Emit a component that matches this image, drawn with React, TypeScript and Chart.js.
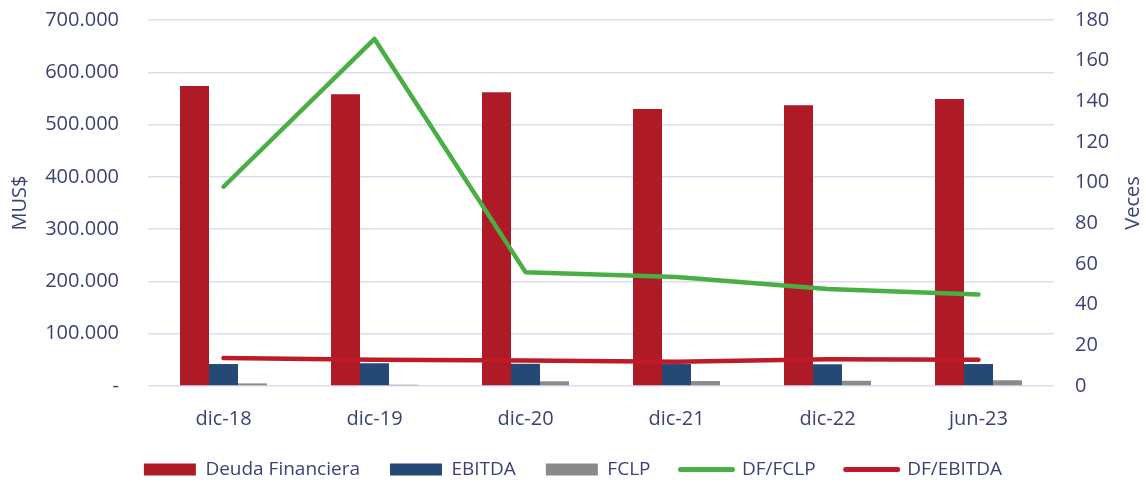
import React, { useEffect, useRef } from "react";
import { Chart, registerables } from "chart.js";

Chart.register(...registerables);

const categories = ["dic-18", "dic-19", "dic-20", "dic-21", "dic-22", "jun-23"];
const deudaFinanciera = [574000, 558000, 562000, 530000, 537000, 549000];
const ebitda = [42000, 43500, 42500, 42000, 41500, 42000];
const fclp = [5000, 2500, 9000, 9500, 10000, 11000];
const dfFclp = [98, 170.7, 56, 53.6, 47.7, 45];
const dfEbitda = [13.8, 12.9, 12.6, 11.9, 13.2, 12.9];
const leftAxisTitle = "MUS$";
const rightAxisTitle = "Veces";

const TEXT = "#3C4277";
const FONT = "'Open Sans', 'Noto Sans', sans-serif";

function fmtThousands(v: number): string {
  if (v === 0) return "-";
  return String(Math.round(v)).replace(/\B(?=(\d{3})+(?!\d))/g, ".");
}

const axisTitles = {
  id: "axisTitles",
  afterDraw(chart: any) {
    const ctx = chart.ctx;
    const area = chart.chartArea;
    const cy = (area.top + area.bottom) / 2;
    const draw = (text: string, x: number) => {
      ctx.save();
      ctx.fillStyle = TEXT;
      ctx.font = `20px ${FONT}`;
      ctx.textAlign = "center";
      ctx.textBaseline = "middle";
      ctx.translate(x, cy);
      ctx.rotate(-Math.PI / 2);
      ctx.fillText(text, 0, 0);
      ctx.restore();
    };
    draw(leftAxisTitle, 20);
    draw(rightAxisTitle, 1133);
  },
};

export default function App() {
  const ref = useRef<HTMLCanvasElement | null>(null);

  useEffect(() => {
    if (!ref.current) return;
    const chart = new Chart(ref.current, {
      type: "bar",
      data: {
        labels: categories,
        datasets: [
          { type: "bar", label: "Deuda Financiera", data: deudaFinanciera, backgroundColor: "#AE1A25", borderWidth: 0, yAxisID: "y", order: 1 },
          { type: "bar", label: "EBITDA", data: ebitda, backgroundColor: "#264875", borderWidth: 0, yAxisID: "y", order: 1 },
          { type: "bar", label: "FCLP", data: fclp, backgroundColor: "#8A8A8A", borderWidth: 0, yAxisID: "y", order: 1 },
          {
            type: "line", label: "DF/FCLP", data: dfFclp, borderColor: "#49AE44", backgroundColor: "#49AE44",
            borderWidth: 4.5, pointRadius: 0, tension: 0, borderCapStyle: "round", borderJoinStyle: "round", yAxisID: "y1", order: 0,
          },
          {
            type: "line", label: "DF/EBITDA", data: dfEbitda, borderColor: "#BE1A28", backgroundColor: "#BE1A28",
            borderWidth: 4.5, pointRadius: 0, tension: 0, borderCapStyle: "round", borderJoinStyle: "round", yAxisID: "y1", order: 0,
          },
        ] as any,
      },
      options: {
        animation: false,
        responsive: true,
        maintainAspectRatio: false,
        layout: { padding: { top: 20, bottom: -6, left: 0, right: 0 } },
        datasets: { bar: { barPercentage: 1, categoryPercentage: 0.576 } } as any,
        plugins: {
          tooltip: { enabled: false },
          legend: {
            position: "bottom",
            labels: {
              usePointStyle: true,
              pointStyleWidth: 52,
              boxHeight: 12,
              padding: 30,
              color: TEXT,
              font: { family: FONT, size: 19 },
              generateLabels: (c: any) => {
                const items = (Chart.defaults.plugins.legend.labels as any).generateLabels(c);
                items.forEach((it: any) => {
                  const ds: any = c.data.datasets[it.datasetIndex];
                  if (ds.type === "line") {
                    it.pointStyle = "line";
                    it.strokeStyle = ds.borderColor;
                    it.lineWidth = 5;
                    it.lineCap = "round";
                  } else {
                    it.pointStyle = "rect";
                    it.lineWidth = 0;
                  }
                });
                return items.sort((a: any, b: any) => a.datasetIndex - b.datasetIndex);
              },
            },
          },
        },
        scales: {
          x: {
            grid: { display: false },
            border: { display: false },
            ticks: { color: TEXT, font: { family: FONT, size: 20 }, padding: 13, maxRotation: 0 },
            afterFit: (s: any) => { s.height = 44; },
          },
          y: {
            position: "left", min: 0, max: 700000,
            border: { display: false },
            grid: { color: "#DCDEF0", lineWidth: 1.5, drawTicks: false },
            ticks: { stepSize: 100000, color: TEXT, font: { family: FONT, size: 20 }, padding: 29, callback: (v: any) => fmtThousands(Number(v)) },
            afterFit: (s: any) => { s.width = 148; s.paddingTop = 0; s.paddingBottom = 0; },
          },
          y1: {
            position: "right", min: 0, max: 180,
            border: { display: false },
            grid: { display: false, drawTicks: false },
            ticks: { stepSize: 20, color: TEXT, font: { family: FONT, size: 20 }, padding: 21 },
            afterFit: (s: any) => { s.width = 92; s.paddingTop = 0; s.paddingBottom = 0; },
          },
        },
      } as any,
      plugins: [axisTitles],
    });
    return () => chart.destroy();
  }, []);

  return (
    <div style={{ position: "absolute", left: 0, top: 0, width: 1146, height: 483 }}>
      <canvas ref={ref} />
    </div>
  );
}
